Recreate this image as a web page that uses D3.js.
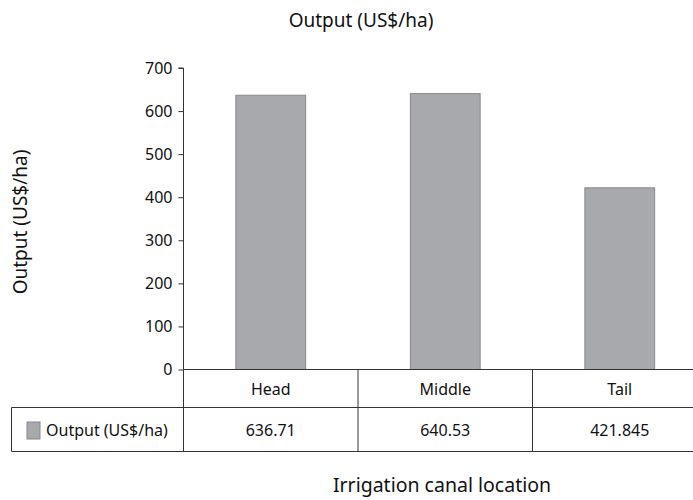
<!DOCTYPE html><html>
<head>
<style>
  body { margin: 0; background: #fff; }
  text { font-family: "Noto Sans", sans-serif; fill: #111; }
</style>
</head><body>
<svg width="693" height="500"></svg>
<script src="https://cdn.jsdelivr.net/npm/d3@7"></script>
<script>
var categories = ['Head', 'Middle', 'Tail'];
var values = [636.71, 640.53, 421.845];
var valueLabels = ['636.71', '640.53', '421.845'];
var yTicks = [0, 100, 200, 300, 400, 500, 600, 700];
var seriesName = 'Output (US$/ha)';

var svg = d3.select('svg');
var plotLeft = 183.5, plotRight = 707, plotTop = 68, zero = 369.5;
var row1 = 407.5, row2 = 451.5, edge = 693, tableLeft = 11.5;

var x = d3.scaleBand().domain(categories).range([plotLeft, plotRight]).paddingInner(0).paddingOuter(0);
var y = d3.scaleLinear().domain([0, 700]).range([zero, plotTop]);
var barW = x.bandwidth() * 0.4;

// bars
svg.selectAll('rect.bar')
    .data(values)
  .enter().append('rect')
    .attr('class', 'bar')
    .attr('x', function(d, i) { return x(categories[i]) + x.bandwidth() / 2 - barW / 2; })
    .attr('y', function(d) { return y(d); })
    .attr('width', barW)
    .attr('height', function(d) { return zero - y(d); })
    .attr('fill', '#a8a9ac')
    .attr('stroke', '#87888b')
    .attr('stroke-width', 1);

// y axis
var yAxis = d3.axisLeft(y).tickValues(yTicks).tickSize(5).tickPadding(6);
var ga = svg.append('g').attr('transform', 'translate(' + plotLeft + ',0)').call(yAxis);
ga.select('.domain').attr('d', 'M-5,' + plotTop + 'H0V' + zero);
ga.selectAll('path, line').attr('stroke', '#333');
ga.selectAll('text').style('font-size', '16px').style('font-family', '"Noto Sans", sans-serif').attr('fill', '#111');

// table lines
var g = svg.append('g').attr('stroke', '#333').attr('stroke-width', 1).attr('fill', 'none');
g.append('line').attr('x1', plotLeft).attr('x2', edge).attr('y1', zero).attr('y2', zero);
g.append('line').attr('x1', tableLeft).attr('x2', edge).attr('y1', row1).attr('y2', row1);
g.append('line').attr('x1', tableLeft).attr('x2', edge).attr('y1', row2).attr('y2', row2);
g.append('line').attr('x1', tableLeft).attr('x2', tableLeft).attr('y1', row1).attr('y2', row2);
g.append('line').attr('x1', plotLeft).attr('x2', plotLeft).attr('y1', zero).attr('y2', row2);
g.selectAll('line.div')
    .data(categories.slice(1))
  .enter().append('line')
    .attr('x1', function(d) { return x(d); })
    .attr('x2', function(d) { return x(d); })
    .attr('y1', zero).attr('y2', row2);

// category labels and values
svg.selectAll('text.cat')
    .data(categories)
  .enter().append('text')
    .attr('x', function(d) { return x(d) + x.bandwidth() / 2; })
    .attr('y', (zero + row1) / 2)
    .attr('text-anchor', 'middle').attr('dominant-baseline', 'central')
    .style('font-size', '16px')
    .text(function(d) { return d; });
svg.selectAll('text.val')
    .data(valueLabels)
  .enter().append('text')
    .attr('x', function(d, i) { return x(categories[i]) + x.bandwidth() / 2; })
    .attr('y', (row1 + row2) / 2)
    .attr('text-anchor', 'middle').attr('dominant-baseline', 'central')
    .style('font-size', '16px')
    .text(function(d) { return d; });

// legend key
svg.append('rect').attr('x', 27).attr('y', 422).attr('width', 13).attr('height', 17)
    .attr('fill', '#a8a9ac').attr('stroke', '#87888b');
svg.append('text').attr('x', 46).attr('y', (row1 + row2) / 2)
    .attr('dominant-baseline', 'central').style('font-size', '16px').text(seriesName);

// titles
svg.append('text').attr('x', 361).attr('y', 20).attr('text-anchor', 'middle')
    .attr('dominant-baseline', 'central').style('font-size', '19px').text(seriesName);
svg.append('text').attr('transform', 'translate(20,222) rotate(-90)').attr('text-anchor', 'middle')
    .attr('dominant-baseline', 'central').style('font-size', '19px').text(seriesName);
svg.append('text').attr('x', 442).attr('y', 484).attr('text-anchor', 'middle')
    .attr('dominant-baseline', 'central').style('font-size', '19.5px').text('Irrigation canal location');
</script>
</body></html>
